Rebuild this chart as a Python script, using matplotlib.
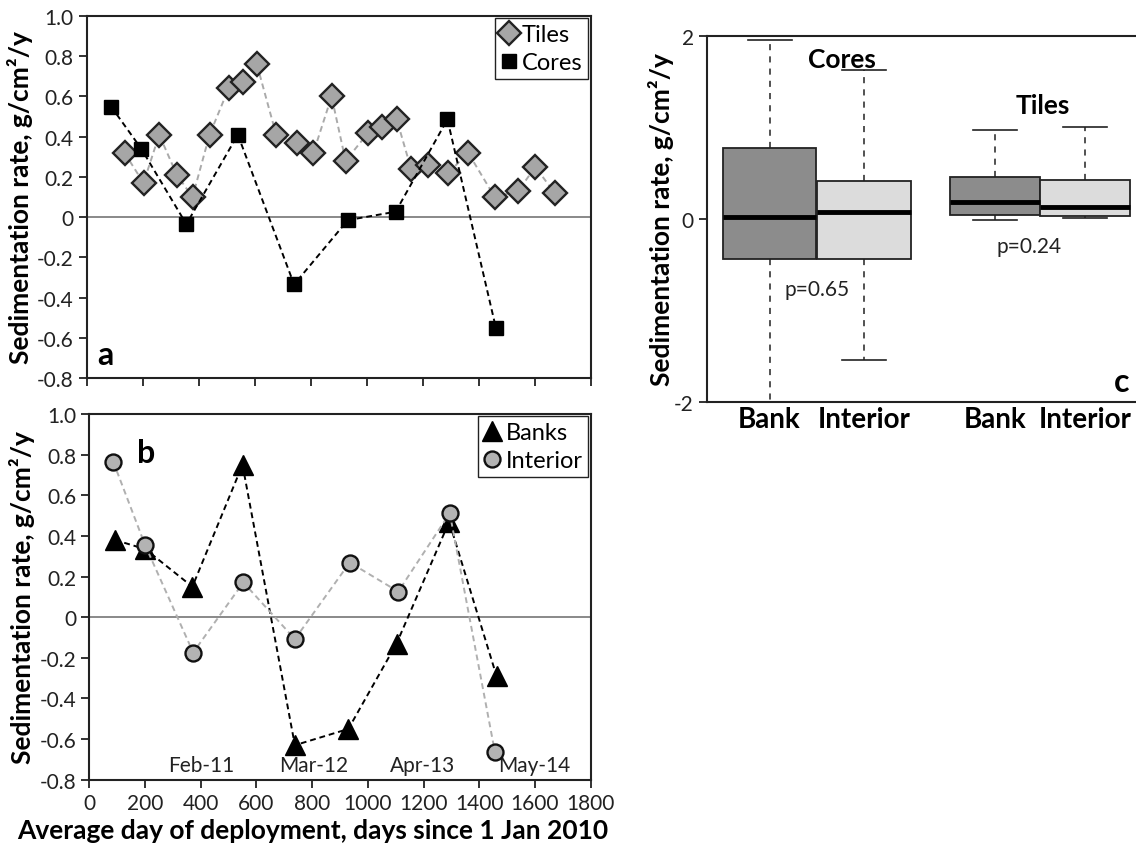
import matplotlib
matplotlib.use("Agg")
import matplotlib.pyplot as plt

plt.rcParams['font.family'] = ['Lato', 'DejaVu Sans']

# panel a: tiles and cores over time
tiles_day = [134, 202, 258, 321, 377, 438, 506, 559, 607, 676, 749, 809, 874, 924,
             1005, 1055, 1106, 1158, 1217, 1291, 1362, 1457, 1541, 1602, 1671]
tiles_rate = [0.32, 0.17, 0.41, 0.21, 0.10, 0.41, 0.64, 0.67, 0.76, 0.41, 0.37, 0.32,
              0.60, 0.28, 0.42, 0.45, 0.49, 0.24, 0.26, 0.22, 0.32, 0.10, 0.13, 0.25, 0.12]
cores_day = [86, 194, 355, 539, 740, 932, 1103, 1288, 1461]
cores_rate = [0.55, 0.34, -0.035, 0.41, -0.335, -0.015, 0.027, 0.486, -0.55]

# panel b: banks and interior
banks_day = [92, 201, 370, 550, 738, 930, 1103, 1292, 1462]
banks_rate = [0.38, 0.335, 0.15, 0.75, -0.63, -0.55, -0.13, 0.47, -0.29]
interior_day = [86, 200, 373, 553, 738, 935, 1109, 1294, 1456]
interior_rate = [0.765, 0.356, -0.174, 0.171, -0.108, 0.269, 0.126, 0.512, -0.663]

month_labels = ['Feb-11', 'Mar-12', 'Apr-13', 'May-14']
month_days = [403, 804, 1198, 1599]

# panel c: box stats
box_labels = ['Bank', 'Interior', 'Bank', 'Interior']
box_q1 = [-0.44, -0.445, 0.047, 0.036]
box_med = [0.02, 0.08, 0.186, 0.124]
box_q3 = [0.77, 0.41, 0.456, 0.43]
box_wlo = [-2.3, -1.54, -0.015, 0.004]
box_whi = [1.96, 1.63, 0.967, 1.01]
box_colors = ['#8c8c8c', '#dcdcdc', '#8c8c8c', '#dcdcdc']
box_pos = [0.671, 1.682, 3.089, 4.054]
box_w = [1.0, 1.0, 0.96, 0.96]

ylab = 'Sedimentation rate, g/cm²/y'
dash = (0, (3, 2))
BW = 'bold'

fig = plt.figure(figsize=(11.36, 8.53), dpi=100)
ax_a = fig.add_axes([0.0766, 0.5557, 0.4434, 0.4243])
ax_b = fig.add_axes([0.0786, 0.0847, 0.4414, 0.4288])
ax_c = fig.add_axes([0.6224, 0.528, 0.3776, 0.4286])

def fmt(v):
    return '0' if abs(v) < 1e-9 else '%.1f' % v

yt = [-0.8 + 0.2 * i for i in range(10)]
for ax in (ax_a, ax_b):
    ax.axhline(0, color='#808080', lw=1.3, zorder=1)
    ax.set_xlim(0, 1800)
    ax.set_ylim(-0.8, 1.0)
    ax.set_yticks(yt)
    ax.set_yticklabels([fmt(v) for v in yt])
    ax.set_xticks(range(0, 1801, 200))
    ax.tick_params(direction='out', length=6, width=1.3, labelsize=15, colors='#222222')
    for s in ax.spines.values():
        s.set_linewidth(1.5)
        s.set_color('#222222')
    ax.set_ylabel(ylab, fontsize=19, fontweight=BW, labelpad=3)

ax_a.set_xticklabels([])
ax_a.plot(tiles_day, tiles_rate, color='#aaaaaa', ls=dash, lw=1.4, marker='D', ms=12.5,
          mfc='#a6a6a6', mec='#222222', mew=1.7, label='Tiles', zorder=3)
ax_a.plot(cores_day, cores_rate, color='black', ls=dash, lw=1.4, marker='s', ms=10.5,
          mfc='black', mec='black', label='Cores', zorder=4)
leg = ax_a.legend(loc='upper right', prop=dict(size=17), frameon=True, fancybox=False,
                  edgecolor='#222222', framealpha=1, handlelength=0.7, handletextpad=0.2,
                  borderpad=0.25, labelspacing=0.3, borderaxespad=0.1)
for h in leg.legend_handles:
    h.set_linestyle('none')
ax_a.text(0.02, 0.04, 'a', transform=ax_a.transAxes, fontsize=23, fontweight=BW)

ax_b.plot(interior_day, interior_rate, color='#b0b0b0', ls=dash, lw=1.4, marker='o', ms=11.5,
          mfc='#b3b3b3', mec='#111111', mew=1.7, label='Interior', zorder=4)
ax_b.plot(banks_day, banks_rate, color='black', ls=dash, lw=1.4, marker='^', ms=14,
          mfc='black', mec='black', label='Banks', zorder=3)
h, l = ax_b.get_legend_handles_labels()
leg = ax_b.legend(h[::-1], l[::-1], loc='upper right', prop=dict(size=17), frameon=True,
                  fancybox=False, edgecolor='#222222', framealpha=1, handlelength=0.7,
                  handletextpad=0.2, borderpad=0.25, labelspacing=0.3, borderaxespad=0.1)
for hh in leg.legend_handles:
    hh.set_linestyle('none')
ax_b.text(0.095, 0.87, 'b', transform=ax_b.transAxes, fontsize=23, fontweight=BW)
for lab, d in zip(month_labels, month_days):
    ax_b.text(d, -0.725, lab, ha='center', va='center', fontsize=15, color='#222222')
ax_b.set_xlabel('Average day of deployment, days since 1 Jan 2010', fontsize=19,
                fontweight=BW)
ax_b.xaxis.set_label_coords(0.445, -0.105)

# panel c
stats = []
for i in range(4):
    stats.append(dict(med=box_med[i], q1=box_q1[i], q3=box_q3[i],
                      whislo=box_wlo[i], whishi=box_whi[i], fliers=[], label=box_labels[i]))
bp = ax_c.bxp(stats, positions=box_pos, widths=box_w, patch_artist=True,
              showfliers=False, capwidths=0.47,
              boxprops=dict(linewidth=1.3, edgecolor='#222222'),
              medianprops=dict(color='black', linewidth=3.5),
              whiskerprops=dict(color='#222222', linewidth=1.1, linestyle=(0, (4, 4))),
              capprops=dict(color='#222222', linewidth=1.2))
for patch, c in zip(bp['boxes'], box_colors):
    patch.set_facecolor(c)
ax_c.set_xlim(0, 4.6)
ax_c.set_ylim(-2, 2)
ax_c.set_yticks([-2, 0, 2])
ax_c.set_yticklabels(['-2', '0', '2'])
ax_c.tick_params(axis='y', direction='out', length=6, width=1.3, labelsize=15,
                 colors='#222222')
ax_c.tick_params(axis='x', length=0, labelsize=20, pad=3)
for t in ax_c.get_xticklabels():
    t.set_fontweight(BW)
ax_c.spines['right'].set_visible(False)
for s in ('left', 'top', 'bottom'):
    ax_c.spines[s].set_linewidth(1.5)
    ax_c.spines[s].set_color('#222222')
ax_c.set_ylabel(ylab, fontsize=19, fontweight=BW, labelpad=0)
ax_c.text(1.45, 1.75, 'Cores', ha='center', va='center', fontsize=19, fontweight=BW)
ax_c.text(3.6, 1.24, 'Tiles', ha='center', va='center', fontsize=19, fontweight=BW)
ax_c.text(1.18, -0.77, 'p=0.65', ha='center', va='center', fontsize=15, color='#222222')
ax_c.text(3.45, -0.3, 'p=0.24', ha='center', va='center', fontsize=15, color='#222222')
ax_c.text(4.45, -1.78, 'c', ha='center', va='center', fontsize=23, fontweight=BW)

fig.savefig('out.png', dpi=100)
